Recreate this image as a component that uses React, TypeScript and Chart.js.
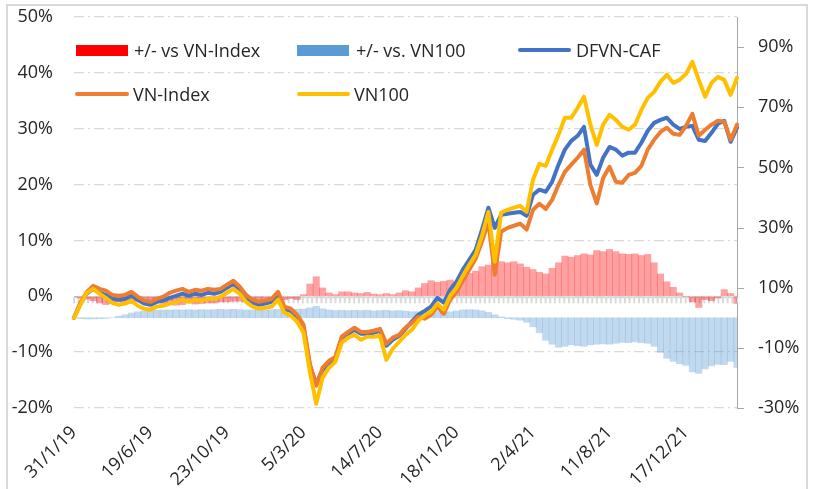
import React, { useEffect, useRef } from 'react';
import { Chart, registerables } from 'chart.js';

Chart.register(...registerables);

const tickLabels = ['31/1/19', '19/6/19', '23/10/19', '5/3/20', '14/7/20', '18/11/20', '2/4/21', '11/8/21', '17/12/21'];
const labelEvery = 12;
const leftTicks = [-20, -10, 0, 10, 20, 30, 40, 50];
const rightTicks = [-30, -10, 10, 30, 50, 70, 90];

// DFVN-CAF (right axis, %)
const dfvnCaf = [
  0, 4.7, 8.0, 9.6, 8.3, 7.6, 6.3, 6.0, 6.3, 7.3,
  6.0, 4.7, 4.3, 5.3, 5.7, 6.6, 7.3, 8.0, 7.3, 8.0,
  7.6, 8.3, 8.0, 8.6, 10.0, 11.3, 9.3, 6.6, 5.0, 4.3,
  4.7, 5.3, 7.6, 3.0, 2.3, 0.3, -3.0, -16.0, -21.9, -17.3,
  -15.0, -13.3, -7.0, -5.3, -4.0, -5.3, -5.3, -5.0, -4.3, -9.3,
  -7.3, -6.0, -3.7, -1.3, 1.0, 2.3, 3.7, 6.6, 5.0, 9.3,
  12.0, 16.0, 19.3, 22.6, 29.3, 36.6, 29.9, 34.2, 34.6, 34.9,
  35.2, 33.9, 40.9, 42.6, 41.9, 45.2, 50.9, 55.9, 58.8, 60.5,
  63.5, 50.9, 47.5, 53.2, 56.8, 55.9, 53.9, 54.9, 54.9, 58.2,
  62.2, 64.8, 65.8, 66.5, 64.2, 62.8, 63.5, 63.8, 59.2, 58.8,
  61.5, 64.5, 65.5, 58.5, 63.2,
];

// VN-Index (right axis, %)
const vnIndex = [
  0, 5.0, 8.6, 10.6, 9.6, 9.0, 7.6, 7.3, 7.6, 8.6,
  7.0, 5.7, 5.3, 6.3, 7.0, 8.3, 9.0, 9.6, 8.6, 9.3,
  9.0, 9.6, 9.3, 9.6, 11.0, 12.3, 10.3, 7.6, 6.0, 5.3,
  5.7, 6.3, 8.6, 3.7, 3.0, 1.0, -2.3, -15.3, -22.6, -16.6,
  -14.3, -13.0, -6.3, -4.7, -3.3, -4.7, -4.7, -4.3, -3.7, -8.6,
  -6.6, -5.7, -3.3, -1.7, 0.3, -0.3, 1.0, 3.7, 1.3, 6.0,
  8.6, 12.3, 16.0, 19.6, 25.3, 32.0, 14.3, 28.6, 29.9, 30.6,
  31.3, 29.3, 35.9, 37.9, 36.2, 39.2, 44.2, 48.5, 50.9, 53.2,
  55.9, 44.2, 38.0, 46.5, 50.2, 45.2, 44.9, 47.5, 48.2, 50.5,
  55.9, 59.2, 61.8, 63.2, 61.2, 60.8, 63.8, 67.8, 60.5, 62.5,
  64.2, 65.5, 65.2, 59.2, 64.2,
];

// VN100 (right axis, %)
const vn100 = [
  0, 4.3, 8.3, 9.6, 8.0, 6.6, 5.0, 4.3, 4.7, 5.7,
  4.0, 3.0, 2.7, 3.7, 4.0, 4.7, 5.3, 6.0, 5.3, 6.0,
  5.7, 6.3, 6.3, 7.0, 8.3, 9.6, 8.0, 5.3, 3.7, 3.0,
  3.3, 3.7, 6.0, 1.7, 0.7, -1.3, -5.0, -18.0, -28.6, -19.9,
  -16.6, -14.6, -8.3, -6.6, -5.7, -7.3, -6.3, -6.3, -6.0, -14.0,
  -10.3, -8.0, -5.7, -4.0, -1.0, 0.7, 2.0, 4.7, 2.7, 7.3,
  10.0, 14.0, 17.6, 20.9, 27.3, 35.2, 18.6, 34.9, 35.9, 36.6,
  37.2, 35.2, 45.9, 51.2, 50.5, 55.9, 60.8, 66.5, 66.5, 69.8,
  73.5, 64.2, 57.5, 64.2, 67.5, 65.8, 63.5, 62.5, 64.2, 69.1,
  73.1, 75.1, 78.5, 80.8, 78.1, 79.1, 81.1, 85.1, 79.1, 73.5,
  78.1, 80.1, 79.1, 74.1, 79.8,
];

// +/- vs VN-Index (left axis, %)
const diffVnIndex = [
  0, -0.3, -0.5, -0.8, -1.2, -1.5, -1.3, -1.0, -1.2, -1.3,
  -1.0, -1.1, -1.2, -1.0, -1.3, -1.5, -1.6, -1.5, -1.2, -1.4,
  -1.3, -1.2, -1.2, -1.0, -1.0, -0.9, -0.9, -1.0, -0.8, -0.9,
  -1.0, -1.0, -1.0, -0.6, -0.4, -0.6, 0.3, 2.2, 3.5, 1.5,
  0.6, 0.3, 0.8, 0.8, 0.6, 0.5, 0.7, 0.4, 0.3, 0.5,
  0.3, 0.6, 1.0, 0.8, 1.5, 2.3, 2.8, 2.5, 2.7, 2.9,
  2.6, 3.5, 4.1, 4.5, 5.3, 5.6, 6.2, 6.2, 6.0, 6.2,
  5.8, 5.2, 4.8, 4.3, 4.0, 5.0, 6.0, 7.2, 7.0, 7.3,
  7.6, 7.4, 8.2, 8.0, 8.4, 8.0, 7.6, 7.5, 7.6, 7.3,
  7.5, 6.0, 4.0, 2.6, 1.6, 0.6, 0.0, -1.0, -2.0, -0.6,
  -0.8, -0.3, 1.2, 0.5, -1.3,
];

// +/- vs. VN100 (right axis, %)
const diffVn100 = [
  0, -0.3, -0.4, -0.4, -0.3, -0.2, 0.0, 0.5, 1.0, 1.6,
  2.0, 2.3, 2.4, 2.5, 2.6, 2.6, 2.7, 2.6, 2.7, 2.6,
  2.7, 2.6, 2.7, 2.8, 2.7, 2.8, 2.7, 2.6, 2.6, 2.7,
  2.6, 2.7, 2.8, 2.8, 2.9, 2.8, 2.9, 3.3, 3.8, 3.0,
  2.6, 2.4, 2.5, 2.4, 2.5, 2.4, 2.5, 2.3, 2.4, 2.5,
  2.3, 2.4, 2.2, 2.0, 2.0, 2.0, 2.0, 2.1, 2.0, 2.0,
  2.3, 2.6, 2.7, 2.6, 2.3, 1.8, 1.0, 0.3, -0.3, -0.5,
  -0.8, -1.5, -3.0, -5.0, -7.5, -8.8, -9.8, -9.5, -9.0, -9.3,
  -9.5, -9.0, -8.8, -8.7, -8.8, -8.5, -8.2, -8.3, -8.0, -8.3,
  -8.5, -9.5, -11.5, -13.5, -14.5, -15.3, -15.8, -18.0, -18.5, -17.0,
  -16.0, -15.5, -15.6, -14.5, -16.5,
];

const categories = dfvnCaf.map((_, i) =>
  i % labelEvery === 0 && tickLabels[i / labelEvery] ? tickLabels[i / labelEvery] : ''
);

const FONT = "'Open Sans', 'Noto Sans', sans-serif";
const TEXT = '#262626';
const AXIS_GREY = '#a6a6a6';

const zeroBand = {
  id: 'zeroBand',
  beforeDatasetsDraw(chart: any) {
    const { ctx, chartArea, scales } = chart;
    const y0 = scales.y.getPixelForValue(0);
    ctx.save();
    ctx.strokeStyle = '#d9d9d9';
    ctx.lineWidth = 2;
    ctx.beginPath();
    ctx.moveTo(chartArea.left, y0 + 1);
    ctx.lineTo(chartArea.right, y0 + 1);
    ctx.stroke();
    const n = 142;
    const step = (chartArea.right - chartArea.left) / n;
    ctx.beginPath();
    for (let k = 0; k <= n; k++) {
      const x = chartArea.left + k * step;
      ctx.moveTo(x, y0 + 1);
      ctx.lineTo(x, y0 + 7);
    }
    ctx.stroke();
    ctx.restore();
  },
};

const rightTickMarks = {
  id: 'rightTickMarks',
  afterDraw(chart: any) {
    const { ctx, chartArea, scales } = chart;
    ctx.save();
    ctx.strokeStyle = AXIS_GREY;
    ctx.lineWidth = 1;
    ctx.beginPath();
    for (const v of rightTicks) {
      const y = Math.round(scales.y1.getPixelForValue(v)) + 0.5;
      ctx.moveTo(chartArea.right, y);
      ctx.lineTo(chartArea.right + 7, y);
    }
    ctx.stroke();
    ctx.restore();
  },
};

const lineDs = (label: string, data: number[], color: string, order: number) => ({
  type: 'line',
  label,
  data,
  yAxisID: 'y1',
  borderColor: color,
  borderWidth: 4,
  pointRadius: 0,
  tension: 0,
  borderJoinStyle: 'round',
  borderCapStyle: 'round',
  order,
});

export default function App() {
  const ref = useRef<HTMLCanvasElement | null>(null);

  useEffect(() => {
    if (!ref.current) return;
    const chart = new Chart(ref.current, {
      type: 'bar',
      data: {
        labels: categories,
        datasets: [
          lineDs('VN100', vn100, '#FFC000', 0),
          lineDs('VN-Index', vnIndex, '#ED7D31', 1),
          lineDs('DFVN-CAF', dfvnCaf, '#4472C4', 2),
          {
            type: 'bar',
            label: '+/- vs VN-Index',
            data: diffVnIndex,
            yAxisID: 'y',
            backgroundColor: 'rgba(255,0,0,0.37)',
            borderWidth: 0,
            barPercentage: 1,
            categoryPercentage: 1,
            grouped: false,
            order: 3,
          },
          {
            type: 'bar',
            label: '+/- vs. VN100',
            data: diffVn100,
            yAxisID: 'y1',
            backgroundColor: 'rgba(91,155,213,0.38)',
            borderWidth: 0,
            barPercentage: 1,
            categoryPercentage: 1,
            grouped: false,
            order: 4,
          },
        ] as any,
      },
      options: {
        animation: false,
        responsive: false,
        maintainAspectRatio: false,
        layout: { padding: { top: 17, left: 0, right: 0, bottom: 0 } },
        plugins: { legend: { display: false }, tooltip: { enabled: false } },
        scales: {
          x: {
            type: 'category',
            offset: false,
            grid: { display: false },
            border: { display: false },
            ticks: {
              autoSkip: false,
              maxRotation: 45,
              minRotation: 45,
              padding: 6,
              color: TEXT,
              font: { family: FONT, size: 18 },
            },
            afterFit: (s: any) => {
              s.height = 81;
            },
          },
          y: {
            position: 'left',
            min: -20,
            max: 50,
            afterBuildTicks: (s: any) => {
              s.ticks = leftTicks.map((v) => ({ value: v }));
            },
            grid: { color: '#d9d9d9', lineWidth: 1.3, drawTicks: true, tickLength: 21, tickColor: 'rgba(0,0,0,0)' },
            border: { display: false, dash: [10, 4, 2, 4] },
            ticks: {
              padding: 0,
              color: TEXT,
              font: { family: FONT, size: 18 },
              callback: (v: any) => `${v}%`,
            },
            afterFit: (s: any) => {
              s.width = 74;
            },
          },
          y1: {
            position: 'right',
            min: -30,
            max: 100,
            afterBuildTicks: (s: any) => {
              s.ticks = rightTicks.map((v) => ({ value: v }));
            },
            grid: { drawOnChartArea: false, drawTicks: true, tickLength: 21, tickColor: 'rgba(0,0,0,0)' },
            border: { display: true, color: AXIS_GREY, width: 1 },
            ticks: {
              padding: 0,
              color: TEXT,
              font: { family: FONT, size: 18 },
              callback: (v: any) => `${v}%`,
            },
            afterFit: (s: any) => {
              s.width = 77;
            },
          },
        },
      } as any,
      plugins: [zeroBand, rightTickMarks],
    });
    return () => chart.destroy();
  }, []);

  const text: React.CSSProperties = {
    position: 'absolute',
    fontFamily: FONT,
    fontSize: 18,
    lineHeight: '24px',
    color: TEXT,
    whiteSpace: 'nowrap',
  };
  const sw = (left: number, top: number, w: number, h: number, bg: string, r = 0): React.CSSProperties => ({
    position: 'absolute',
    left,
    top,
    width: w,
    height: h,
    background: bg,
    borderRadius: r,
  });

  return (
    <div style={{ position: 'fixed', left: 0, top: 0, width: 814, height: 489, background: '#fff', overflow: 'hidden' }}>
      <div
        style={{
          position: 'absolute',
          left: 6,
          top: 4,
          width: 802,
          height: 600,
          border: '2px solid #d9d9d9',
          boxSizing: 'border-box',
        }}
      />
      <canvas ref={ref} width={814} height={489} style={{ position: 'absolute', left: 0, top: 0, width: 814, height: 489 }} />
      <div style={sw(76, 45, 52, 11, '#FF0000')} />
      <div style={{ ...text, left: 134, top: 37.5 }}>+/- vs VN-Index</div>
      <div style={sw(297, 45, 52, 11, '#5B9BD5')} />
      <div style={{ ...text, left: 356, top: 37.5 }}>+/- vs. VN100</div>
      <div style={sw(518, 47.5, 53, 4, '#4472C4', 2)} />
      <div style={{ ...text, left: 576, top: 37.5 }}>DFVN-CAF</div>
      <div style={sw(75, 92, 54, 4, '#ED7D31', 2)} />
      <div style={{ ...text, left: 133, top: 81.5 }}>VN-Index</div>
      <div style={sw(297, 92, 53, 4, '#FFC000', 2)} />
      <div style={{ ...text, left: 354, top: 81.5 }}>VN100</div>
    </div>
  );
}
